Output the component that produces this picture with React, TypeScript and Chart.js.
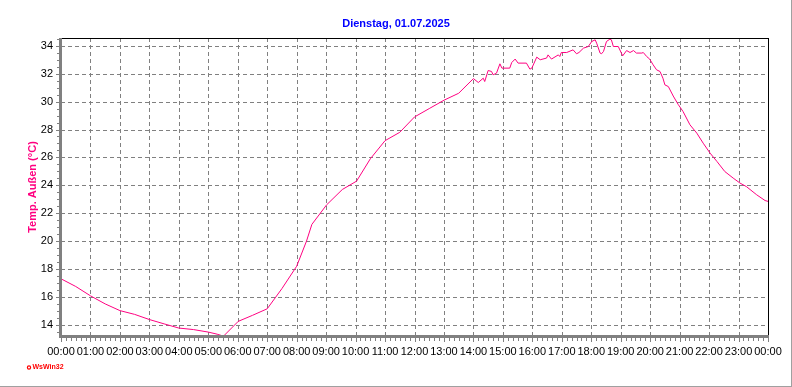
import React, { useEffect, useRef } from "react";
import { Chart, registerables } from "chart.js";

Chart.register(...registerables);

const TITLE = "Dienstag, 01.07.2025";
const Y_TITLE = "Temp. Außen (°C)";
const LOGO = "WsWin32";

const times = [
  "00:00", "00:30", "01:00", "01:30", "02:00", "02:30", "03:00", "03:30", "04:00", "04:30",
  "05:00", "05:18", "05:31", "06:01", "06:30", "07:00", "07:30", "08:00", "08:20", "08:31",
  "09:01", "09:33", "10:02", "10:30", "11:00", "11:30", "12:00", "12:30", "13:00", "13:30",
  "14:00", "14:10", "14:20", "14:23", "14:30", "14:37", "14:40", "14:47", "14:54", "14:58",
  "15:14", "15:18", "15:25", "15:31", "15:48", "15:55", "15:59", "16:09", "16:16", "16:29",
  "16:32", "16:39", "16:53", "16:56", "16:59", "17:10", "17:23", "17:30", "17:35", "17:44",
  "17:54", "18:01", "18:08", "18:11", "18:18", "18:21", "18:25", "18:31", "18:38", "18:41",
  "18:45", "18:55", "19:02", "19:04", "19:12", "19:19", "19:26", "19:32", "19:43", "19:46",
  "19:53", "19:59", "20:06", "20:13", "20:20", "20:26", "20:30", "20:37", "20:47", "20:57",
  "21:07", "21:21", "21:35", "21:48", "22:02", "22:16", "22:32", "22:49", "23:03", "23:16",
  "23:37", "23:54", "24:00",
];

const temps = [
  17.3, 16.75, 16.08, 15.5, 15.02, 14.75, 14.38, 14.07, 13.77, 13.66,
  13.48, 13.33, 13.19, 14.25, 14.68, 15.15, 16.6, 18.2, 20.0, 21.2,
  22.6, 23.7, 24.3, 25.9, 27.2, 27.8, 28.9, 29.5, 30.1, 30.6,
  31.65, 31.37, 31.68, 31.44, 32.23, 32.16, 31.92, 32.04, 32.71, 32.4,
  32.4, 32.8, 33.05, 32.76, 32.76, 32.33, 32.4, 33.19, 33.0, 33.12,
  33.35, 33.05, 33.35, 33.23, 33.52, 33.52, 33.71, 33.43, 33.52, 33.83,
  33.95, 34.31, 34.43, 34.19, 33.48, 33.43, 33.6, 34.31, 34.48, 34.43,
  33.95, 33.95, 33.43, 33.28, 33.66, 33.52, 33.66, 33.48, 33.48, 33.52,
  33.23, 33.05, 32.64, 32.28, 32.16, 31.68, 31.2, 31.08, 30.4, 29.8,
  29.29, 28.34, 27.74, 27.02, 26.31, 25.71, 24.99, 24.52, 24.16, 23.91,
  23.32, 22.91, 22.85,
];

const hourTicks = Array.from({ length: 25 }, (_, i) => i);
const hourLabels = hourTicks.map((h) => String(h % 24).padStart(2, "0") + ":00");
const yTicks = [14, 16, 18, 20, 22, 24, 26, 28, 30, 32, 34];

const LINE = "#ff0080";
const GRID = "#808080";
const FONT = "'Liberation Sans', Arial, sans-serif";

function toHours(t: string): number {
  const [h, m] = t.split(":").map(Number);
  return h + m / 60;
}

const decor = {
  id: "decor",
  beforeDatasetsDraw(chart: any) {
    const { ctx, chartArea: a, scales } = chart;
    const x = scales.x;
    const y = scales.y;
    ctx.save();
    ctx.strokeStyle = GRID;
    ctx.lineWidth = 1;
    ctx.setLineDash([4, 3]);
    for (let h = 1; h < 24; h++) {
      const px = Math.round(x.getPixelForValue(h)) + 0.5;
      ctx.beginPath();
      ctx.moveTo(px, a.top);
      ctx.lineTo(px, a.bottom);
      ctx.stroke();
    }
    for (const v of yTicks) {
      const py = Math.round(y.getPixelForValue(v)) + 0.5;
      ctx.beginPath();
      ctx.moveTo(a.left, py);
      ctx.lineTo(a.right, py);
      ctx.stroke();
    }
    ctx.restore();
  },
  afterDatasetsDraw(chart: any) {
    const { ctx, chartArea: a, scales, width, height } = chart;
    const x = scales.x;
    const y = scales.y;
    ctx.save();
    ctx.setLineDash([]);
    ctx.fillStyle = "#000";
    ctx.fillRect(Math.round(a.left), Math.round(a.top), Math.round(a.right - a.left) + 1, 1);
    ctx.fillRect(Math.round(a.right), Math.round(a.top), 1, Math.round(a.bottom - a.top));
    ctx.fillStyle = GRID;
    ctx.fillRect(Math.round(a.left) - 2, Math.round(a.top), 3, Math.round(a.bottom - a.top) + 2);
    ctx.fillRect(Math.round(a.left) - 2, Math.round(a.bottom) - 1, Math.round(a.right - a.left) + 3, 3);
    for (let m = 0; m <= 24 * 60; m += 10) {
      const px = Math.round(x.getPixelForValue(m / 60));
      const len = m % 60 === 0 ? 4 : 3;
      ctx.fillRect(px, Math.round(a.bottom) + 2, 1, len);
    }
    for (let v = 13.5; v <= 34.5; v += 0.5) {
      const py = Math.round(y.getPixelForValue(v));
      const len = v % 2 === 0 ? 3 : 2;
      ctx.fillRect(Math.round(a.left) - 2 - len, py, len, 1);
    }
    ctx.fillStyle = "#0000ff";
    ctx.font = `bold 11px ${FONT}`;
    ctx.textAlign = "center";
    ctx.textBaseline = "middle";
    ctx.fillText(TITLE, width / 2, 24);
    ctx.save();
    ctx.translate(32.5, (a.top + a.bottom) / 2);
    ctx.rotate(-Math.PI / 2);
    ctx.fillStyle = LINE;
    ctx.font = `bold 11px ${FONT}`;
    ctx.fillText(Y_TITLE, 0, 0);
    ctx.restore();
    ctx.strokeStyle = "#ff0000";
    ctx.lineWidth = 1.2;
    ctx.beginPath();
    ctx.arc(29, 367.5, 1.6, 0, Math.PI * 2);
    ctx.stroke();
    ctx.fillStyle = "#ff0000";
    ctx.font = `bold 7px ${FONT}`;
    ctx.textAlign = "left";
    ctx.fillText(LOGO, 32.5, 367.5);
    ctx.fillStyle = "#a0a0a0";
    ctx.fillRect(width - 1, 0, 1, height);
    ctx.fillRect(0, height - 1, width, 1);
    ctx.restore();
  },
};

export default function App() {
  const ref = useRef<HTMLCanvasElement | null>(null);
  useEffect(() => {
    document.body.style.margin = "0";
    const canvas = ref.current;
    if (!canvas) return;
    const points = times.map((t, i) => ({ x: toHours(t), y: temps[i] }));
    const chart = new Chart(canvas, {
      type: "line",
      data: {
        datasets: [
          {
            data: points,
            borderColor: LINE,
            borderWidth: 1,
            pointRadius: 0,
            tension: 0,
            fill: false,
          },
        ],
      },
      options: {
        animation: false,
        responsive: false,
        devicePixelRatio: 1,
        layout: { padding: { left: 0, right: 24, top: 38, bottom: 0 } },
        plugins: {
          legend: { display: false },
          tooltip: { enabled: false },
          title: { display: false },
        },
        scales: {
          x: {
            type: "linear",
            min: 0,
            max: 24,
            grid: { display: false, drawTicks: false, tickLength: 0 },
            border: { display: false },
            afterBuildTicks: (s: any) => {
              s.ticks = hourTicks.map((v) => ({ value: v }));
            },
            afterFit: (s: any) => {
              s.height = 51;
            },
            ticks: {
              autoSkip: false,
              maxRotation: 0,
              minRotation: 0,
              padding: 9,
              color: "#000",
              font: { family: FONT, size: 11 },
              callback: (v: any) => hourLabels[Math.round(Number(v))] ?? "",
            },
          },
          y: {
            type: "linear",
            min: 13.2,
            max: 34.56,
            grid: { display: false, drawTicks: false, tickLength: 0 },
            border: { display: false },
            afterBuildTicks: (s: any) => {
              s.ticks = yTicks.map((v) => ({ value: v }));
            },
            afterFit: (s: any) => {
              s.width = 61;
            },
            ticks: {
              padding: 8,
              color: "#000",
              font: { family: FONT, size: 11 },
              callback: (v: any) => String(v),
            },
          },
        },
      },
      plugins: [decor],
    });
    return () => chart.destroy();
  }, []);
  return <canvas ref={ref} width={792} height={387} style={{ display: "block" }} />;
}
